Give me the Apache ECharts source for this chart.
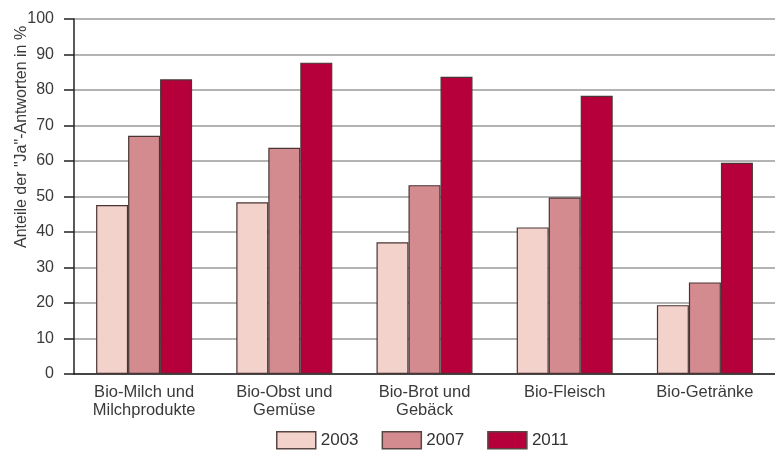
<!DOCTYPE html>
<html>
<head>
<meta charset="utf-8">
<script src="https://cdn.jsdelivr.net/npm/echarts@6/dist/echarts.min.js"></script>
<style>html,body{margin:0;padding:0;background:#fff}#c{width:775px;height:450px}</style>
</head>
<body>
<div id="c"></div>
<script>
var categories = ['Bio-Milch und\nMilchprodukte', 'Bio-Obst und\nGemüse', 'Bio-Brot und\nGebäck', 'Bio-Fleisch', 'Bio-Getränke'];
var years = ['2003', '2007', '2011'];
var values2003 = [47.6, 48.4, 37.1, 41.3, 19.4];
var values2007 = [67.1, 63.7, 53.2, 49.7, 25.8];
var values2011 = [83.0, 87.7, 83.7, 78.4, 59.5];
var yTicks = [0, 10, 20, 30, 40, 50, 60, 70, 80, 90, 100];
var yName = 'Anteile der "Ja"-Antworten in %';

var colors = ['#f2d2cb', '#d48b90', '#b5003b'];
var font = '"Liberation Sans", Arial, sans-serif';
var chart = echarts.init(document.getElementById('c'));
function bar(name, data, i) {
  return {
    name: name, type: 'bar', data: data, barWidth: 32, barGap: '0%',
    itemStyle: { color: colors[i], borderColor: '#4a3535', borderWidth: 1.2 }
  };
}
chart.setOption({
  animation: false,
  textStyle: { fontFamily: font },
  grid: { left: 74, right: -9, top: 19, bottom: 76, containLabel: false },
  legend: {
    data: years, left: 276, top: 431, padding: 0, itemWidth: 39, itemHeight: 17, itemGap: 23,
    icon: 'rect',
    itemStyle: { borderColor: '#5a4545', borderWidth: 1.5 },
    textStyle: { fontSize: 17, color: '#333', fontFamily: font }
  },
  xAxis: {
    type: 'category', data: categories,
    axisLine: { lineStyle: { color: '#222', width: 1.5 } },
    axisTick: { show: false },
    axisLabel: { color: '#3a3a3a', fontSize: 16.5, lineHeight: 17.5, margin: 10, fontFamily: font, interval: 0 }
  },
  yAxis: {
    type: 'value', min: yTicks[0], max: yTicks[yTicks.length - 1], interval: 10,
    axisLine: { show: true, lineStyle: { color: '#222', width: 1.5 } },
    axisTick: { show: true, length: 10, lineStyle: { color: '#222', width: 1.5 } },
    axisLabel: { color: '#3a3a3a', fontSize: 16, margin: 20, fontFamily: font },
    splitLine: { lineStyle: { color: '#9a9a9a', width: 1.6 } }
  },
  graphic: [{
    type: 'text', x: 14, y: 248, rotation: Math.PI / 2,
    style: { text: yName, fontSize: 16, fill: '#3a3a3a', fontFamily: font, textAlign: 'left', textVerticalAlign: 'top' }
  }],
  series: [bar(years[0], values2003, 0), bar(years[1], values2007, 1), bar(years[2], values2011, 2)]
});
</script>
</body>
</html>
